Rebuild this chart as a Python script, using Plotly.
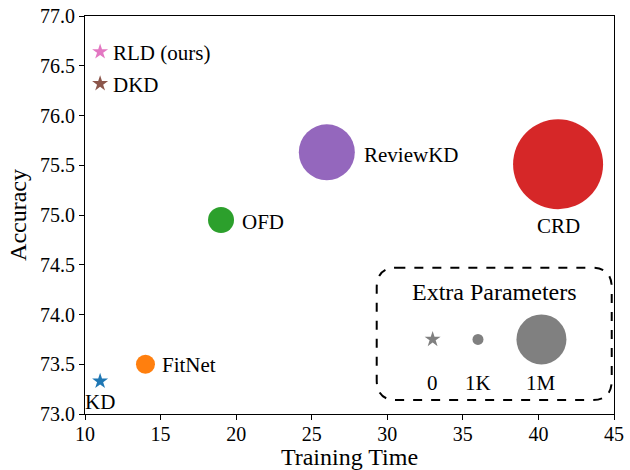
import plotly.graph_objects as go

# Methods, training time and accuracy
methods = ["KD", "FitNet", "OFD", "ReviewKD", "CRD", "DKD", "RLD (ours)"]
train_time = [11, 14, 19, 26, 41.3, 11, 11]
accuracy = [73.33, 73.50, 74.95, 75.63, 75.51, 76.32, 76.64]

# Size legend entries
legend_labels = ["0", "1K", "1M"]
legend_x = [33, 36, 40.2]
legend_y = 73.75
legend_label_y = 73.31

x_ticks = [10, 15, 20, 25, 30, 35, 40, 45]
y_ticks = [73.0, 73.5, 74.0, 74.5, 75.0, 75.5, 76.0, 76.5, 77.0]

# Styles
colors = ["#1f77b4", "#ff7f0e", "#2ca02c", "#9467bd", "#d62728", "#8c564b", "#e377c2"]
symbols = ["star", "circle", "circle", "circle", "circle", "star", "star"]
diam = [12, 19, 26, 56, 90, 12, 12]
legend_symbols = ["star", "circle", "circle"]
legend_diam = [12, 11, 50]
FONT = "Liberation Serif, Times New Roman, serif"

fig = go.Figure()
for i, m in enumerate(methods):
    fig.add_trace(go.Scatter(
        x=[train_time[i]], y=[accuracy[i]], mode="markers",
        marker=dict(symbol=symbols[i], size=diam[i], color=colors[i], opacity=1,
                    line=dict(width=0)),
        showlegend=False, hoverinfo="skip"))

fig.add_trace(go.Scatter(
    x=legend_x, y=[legend_y] * 3, mode="markers",
    marker=dict(symbol=legend_symbols, size=legend_diam, color="#808080", opacity=1,
                line=dict(width=0)),
    showlegend=False, hoverinfo="skip"))

# Method labels: (xanchor, xshift, yshift)
label_pos = {
    "KD": ("center", 0, -21),
    "FitNet": ("left", 15, -1),
    "OFD": ("left", 19, -2),
    "ReviewKD": ("left", 35, -3),
    "CRD": ("center", 0, -62),
    "DKD": ("left", 11, -1),
    "RLD (ours)": ("left", 11, -1),
}
for i, m in enumerate(methods):
    xa, xs, ys = label_pos[m]
    fig.add_annotation(x=train_time[i], y=accuracy[i], text=m, showarrow=False,
                       xanchor=xa, yanchor="middle", xshift=xs, yshift=ys,
                       font=dict(family=FONT, size=21, color="black"))

for lx, lt in zip(legend_x, legend_labels):
    fig.add_annotation(x=lx, y=legend_label_y, text=lt, showarrow=False,
                       xanchor="center", yanchor="middle",
                       font=dict(family=FONT, size=21, color="black"))
fig.add_annotation(x=37.1, y=74.23, text="Extra Parameters", showarrow=False,
                   xanchor="center", yanchor="middle",
                   font=dict(family=FONT, size=24, color="black"))

# Rounded dashed frame around the size legend
x0, x1, y0, y1 = 29.3, 44.85, 73.14, 74.47
rx, ry = 1.3, 0.2
path = (f"M {x0+rx},{y1} L {x1-rx},{y1} Q {x1},{y1} {x1},{y1-ry} "
        f"L {x1},{y0+ry} Q {x1},{y0} {x1-rx},{y0} L {x0+rx},{y0} "
        f"Q {x0},{y0} {x0},{y0+ry} L {x0},{y1-ry} Q {x0},{y1} {x0+rx},{y1} Z")
fig.add_shape(type="path", path=path, xref="x", yref="y",
              line=dict(color="black", width=2, dash="dash"), fillcolor="rgba(0,0,0,0)")

axis_common = dict(showline=True, linecolor="black", linewidth=1.2, mirror=True,
                   ticks="outside", ticklen=5, tickcolor="black", showgrid=False,
                   zeroline=False, automargin=False,
                   tickfont=dict(family=FONT, size=20, color="black"))
fig.update_xaxes(range=[10, 45], tickvals=x_ticks, ticktext=[str(v) for v in x_ticks],
                 ticklabelstandoff=-3,
                 title=dict(text="Training Time", font=dict(family=FONT, size=24, color="black"),
                            standoff=7), **axis_common)
fig.update_yaxes(range=[73.0, 77.0], tickvals=y_ticks, ticktext=[f"{v:.1f}" for v in y_ticks],
                 title=dict(text="Accuracy", font=dict(family=FONT, size=24, color="black"),
                            standoff=6), **axis_common)

fig.update_layout(width=630, height=470, margin=dict(l=85, r=16, t=16, b=56),
                  plot_bgcolor="white", paper_bgcolor="white")
fig.write_html("out.html")
